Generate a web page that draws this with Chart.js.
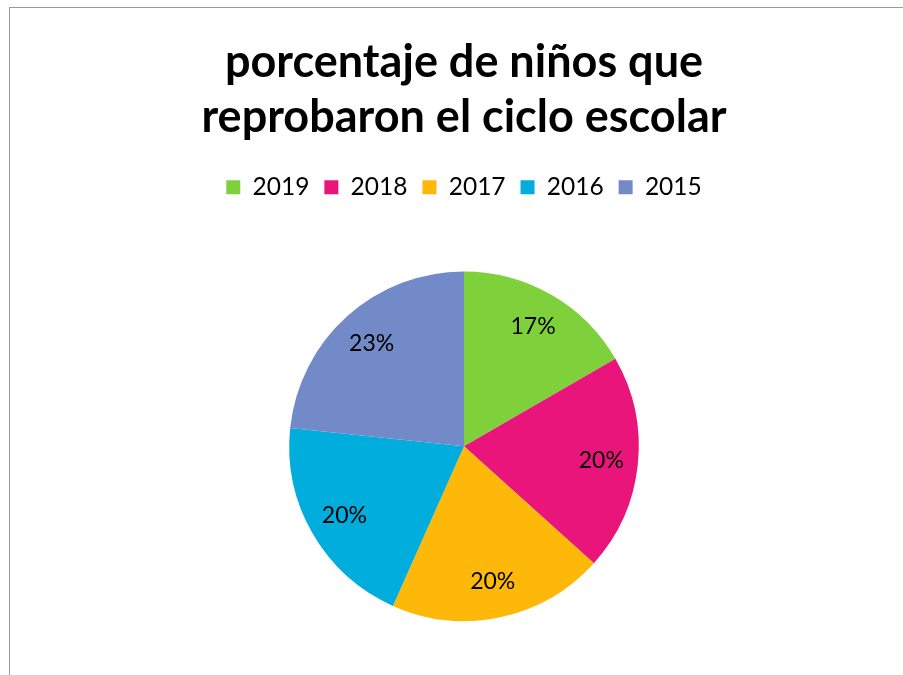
<!DOCTYPE html>
<html>
<head>
<meta charset="utf-8">
<script src="https://cdn.jsdelivr.net/npm/chart.js@4"></script>
<style>
  html, body { margin: 0; padding: 0; background: #fff; overflow: hidden; }
  #frame {
    position: absolute; left: 9px; top: 7px;
    width: 910px; height: 680px;
    border-left: 1px solid #9a9a9a; border-top: 1px solid #9a9a9a;
  }
  #wrap { position: absolute; left: 0; top: 0; width: 908px; height: 667px; }
</style>
</head>
<body>
<div id="frame"><div id="wrap"><canvas id="pieChart"></canvas></div></div>
<script>
const years = ['2019', '2018', '2017', '2016', '2015'];
const values = [5, 6, 6, 6, 7];
const sliceColors = ['#7fd13b', '#ea157a', '#feb80a', '#00addc', '#738ac8'];

const FONT = 'Lato, "Open Sans", sans-serif';

// draws the % labels inside each slice
const pctLabels = {
  id: 'pctLabels',
  afterDatasetsDraw(chart) {
    const ctx = chart.ctx;
    const meta = chart.getDatasetMeta(0);
    const total = values.reduce((a, b) => a + b, 0);
    ctx.save();
    ctx.font = '23px ' + FONT;
    ctx.fillStyle = '#000';
    ctx.textAlign = 'center';
    ctx.textBaseline = 'middle';
    meta.data.forEach((arc, i) => {
      const mid = (arc.startAngle + arc.endAngle) / 2;
      const r = arc.outerRadius * 0.79;
      const x = arc.x + Math.cos(mid) * r;
      const y = arc.y + Math.sin(mid) * r;
      ctx.fillText(Math.round(values[i] / total * 100) + '%', x, y);
    });
    ctx.restore();
  }
};

// extra room under the legend, before the pie
const legendGap = {
  id: 'legendGap',
  beforeInit(chart) {
    const fit = chart.legend.fit;
    chart.legend.fit = function () {
      fit.bind(chart.legend)();
      this.height += 62;
    };
  }
};

new Chart(document.getElementById('pieChart'), {
  type: 'pie',
  data: {
    labels: years,
    datasets: [{
      data: values,
      backgroundColor: sliceColors,
      borderWidth: 0
    }]
  },
  options: {
    responsive: true,
    maintainAspectRatio: false,
    animation: false,
    layout: { padding: { top: 0, bottom: 54, left: 0, right: 0 } },
    plugins: {
      tooltip: { enabled: false },
      title: {
        display: true,
        text: ['porcentaje de niños que', 'reprobaron el ciclo escolar'],
        color: '#000',
        font: { family: FONT, size: 45, weight: 'bold', lineHeight: 1.244 },
        padding: { top: 26, bottom: 14 }
      },
      legend: {
        position: 'top',
        labels: {
          color: '#000',
          font: { family: FONT, size: 24.5 },
          boxWidth: 14,
          boxHeight: 14,
          padding: 15
        }
      }
    }
  },
  plugins: [pctLabels, legendGap]
});
</script>
</body>
</html>
